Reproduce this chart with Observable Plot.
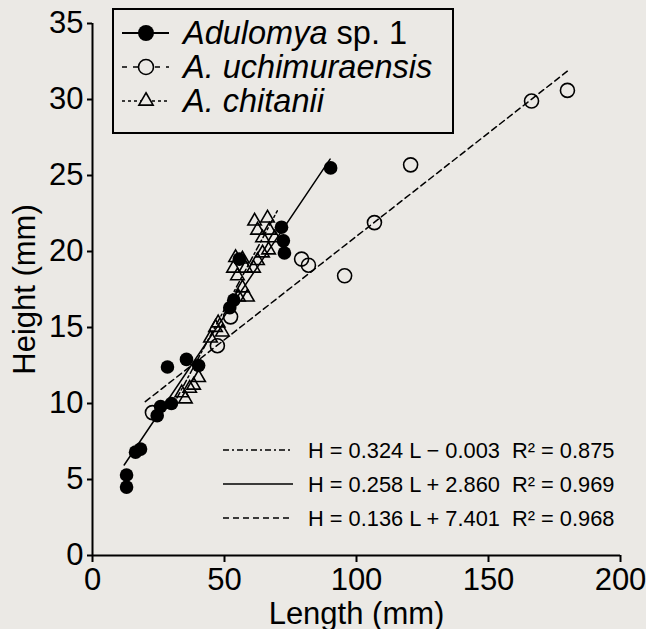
<!DOCTYPE html>
<html><head><meta charset="utf-8">
<script src="https://cdn.jsdelivr.net/npm/d3@7"></script>
<script src="https://cdn.jsdelivr.net/npm/@observablehq/plot@0.6"></script>
<style>body{margin:0;background:#ebe9e5;}</style>
</head><body><div id="chart"></div>
<script>
// Adulomya sp. 1 (filled circles)
const adulomyaL = [12.9, 12.9, 16.3, 18.2, 24.5, 25.8, 29.9, 28.4, 35.6, 40.2, 52.0, 53.5, 55.6, 71.6, 72.3, 72.7, 90.2];
const adulomyaH = [5.3, 4.5, 6.8, 7.0, 9.2, 9.8, 10.0, 12.4, 12.9, 12.5, 16.3, 16.8, 19.5, 21.6, 20.7, 19.9, 25.5];
// A. uchimuraensis (open circles)
const uchiL = [22.7, 47.3, 52.3, 79.2, 81.8, 95.5, 106.8, 120.5, 166.3, 179.9];
const uchiH = [9.4, 13.8, 15.7, 19.5, 19.1, 18.4, 21.9, 25.7, 29.9, 30.6];
// A. chitanii (open triangles)
const chitaniiL = [33.8, 35.2, 36.8, 38.3, 40.2, 44.7, 46.6, 47.6, 49.2, 53.4, 54.2, 54.9, 55.3, 56.8, 56.8, 58.0, 58.7, 61.0, 62.5, 64.4, 66.7, 64.4, 69.0, 62.5, 67.0, 61.4, 66.3];
const chitaniiH = [10.7, 10.3, 11.0, 11.2, 11.7, 14.3, 15.0, 15.3, 14.7, 18.9, 19.6, 18.4, 17.0, 17.6, 19.5, 18.9, 17.0, 18.9, 19.4, 19.9, 20.1, 20.9, 20.9, 21.4, 21.4, 22.0, 22.2];

// Regressions: chitanii, Adulomya, uchimuraensis
const regSlope = [0.324, 0.258, 0.136];
const regIntercept = [-0.003, 2.860, 7.401];
const regLabels = ["H = 0.324 L − 0.003  R² = 0.875", "H = 0.258 L + 2.860  R² = 0.969", "H = 0.136 L + 7.401  R² = 0.968"];
const regRange = [[32, 70], [12, 90], [20, 180]];
const regDash = ["6,3,2,3", null, "6,4"];

const legendNames = [["Adulomya", " sp. 1"], ["A. uchimuraensis", ""], ["A. chitanii", ""]];
const xTicks = [0, 50, 100, 150, 200];
const yTicks = [0, 5, 10, 15, 20, 25, 30, 35];

const rows = (L, H) => L.map((l, i) => ({L: l, H: H[i]}));
const adul = rows(adulomyaL, adulomyaH);
const uchi = rows(uchiL, uchiH);
const chit = rows(chitaniiL, chitaniiH);
const regLine = i => regRange[i].map(l => ({L: l, H: regSlope[i] * l + regIntercept[i]}));

const BG = "#ebe9e5";
const FONT = "'Liberation Sans', Arial, sans-serif";

const plot = Plot.plot({
  width: 646, height: 629,
  marginLeft: 92, marginRight: 26, marginTop: 23, marginBottom: 74,
  x: {domain: [0, 200]},
  y: {domain: [0, 35]},
  style: {background: BG, fontFamily: FONT, color: "black", overflow: "visible"},
  marks: [
    Plot.axisX({ticks: xTicks, tickSize: 7, tickPadding: 5, fontSize: 31, strokeWidth: 2, label: "Length (mm)", labelAnchor: "center", labelArrow: "none", labelOffset: 68}),
    Plot.axisY({ticks: yTicks, tickSize: 5, tickPadding: 4, fontSize: 31, strokeWidth: 2, label: "Height (mm)", labelAnchor: "center", labelArrow: "none", labelOffset: 80}),
    Plot.ruleX([0], {strokeWidth: 2}),
    Plot.ruleY([0], {strokeWidth: 2}),
    Plot.line(regLine(0), {x: "L", y: "H", stroke: "black", strokeWidth: 1.5, strokeDasharray: regDash[0]}),
    Plot.line(regLine(1), {x: "L", y: "H", stroke: "black", strokeWidth: 1.5}),
    Plot.line(regLine(2), {x: "L", y: "H", stroke: "black", strokeWidth: 1.5, strokeDasharray: regDash[2]}),
    Plot.dot(chit, {x: "L", y: "H", symbol: "triangle", r: 5, stroke: "black", strokeWidth: 1.6, fill: "none"}),
    Plot.dot(uchi, {x: "L", y: "H", r: 7, stroke: "black", strokeWidth: 1.6, fill: "none"}),
    Plot.dot(adul, {x: "L", y: "H", r: 6.8, fill: "black", stroke: "none"})
  ]
});
document.getElementById("chart").appendChild(plot);

// Legend box (top-left)
const svg = d3.select(plot);
const lg = svg.append("g").attr("font-family", FONT).attr("font-size", 32.5).attr("text-anchor", "start");
lg.append("rect").attr("x", 113).attr("y", 9).attr("width", 340).attr("height", 124)
  .attr("fill", BG).attr("stroke", "black").attr("stroke-width", 2);
const legendDash = [null, "5,6", "3,3"];
const legendWidth = [2.2, 1.6, 1.6];
const legendSym = [d3.symbolCircle, d3.symbolCircle, d3.symbolTriangle];
const legendSize = [Math.PI * 8 * 8, Math.PI * 7.5 * 7.5, Math.PI * 28];
legendNames.forEach((nm, i) => {
  const cy = 33 + i * 34;
  lg.append("line").attr("x1", 122).attr("x2", 169).attr("y1", cy).attr("y2", cy)
    .attr("stroke", "black").attr("stroke-width", legendWidth[i]).attr("stroke-dasharray", legendDash[i]);
  lg.append("path").attr("transform", `translate(146,${cy})`)
    .attr("d", d3.symbol(legendSym[i], legendSize[i])())
    .attr("fill", i === 0 ? "black" : BG).attr("stroke", i === 0 ? "none" : "black").attr("stroke-width", 1.6);
  const t = lg.append("text").attr("x", 183).attr("y", cy + 11).attr("text-anchor", "start");
  t.append("tspan").attr("font-style", "italic").text(nm[0]);
  if (nm[1]) t.append("tspan").text(nm[1]);
});

// Regression equations (bottom-right)
const eq = svg.append("g").attr("font-family", FONT).attr("font-size", 21.8).attr("text-anchor", "start");
regLabels.forEach((s, i) => {
  const cy = 450 + i * 34;
  eq.append("line").attr("x1", 223).attr("x2", 293).attr("y1", cy).attr("y2", cy)
    .attr("stroke", "black").attr("stroke-width", 1.5).attr("stroke-dasharray", regDash[i]);
  eq.append("text").attr("x", 308).attr("y", cy + 7.5).attr("text-anchor", "start").style("white-space", "pre").text(s);
});
</script>
</body></html>
